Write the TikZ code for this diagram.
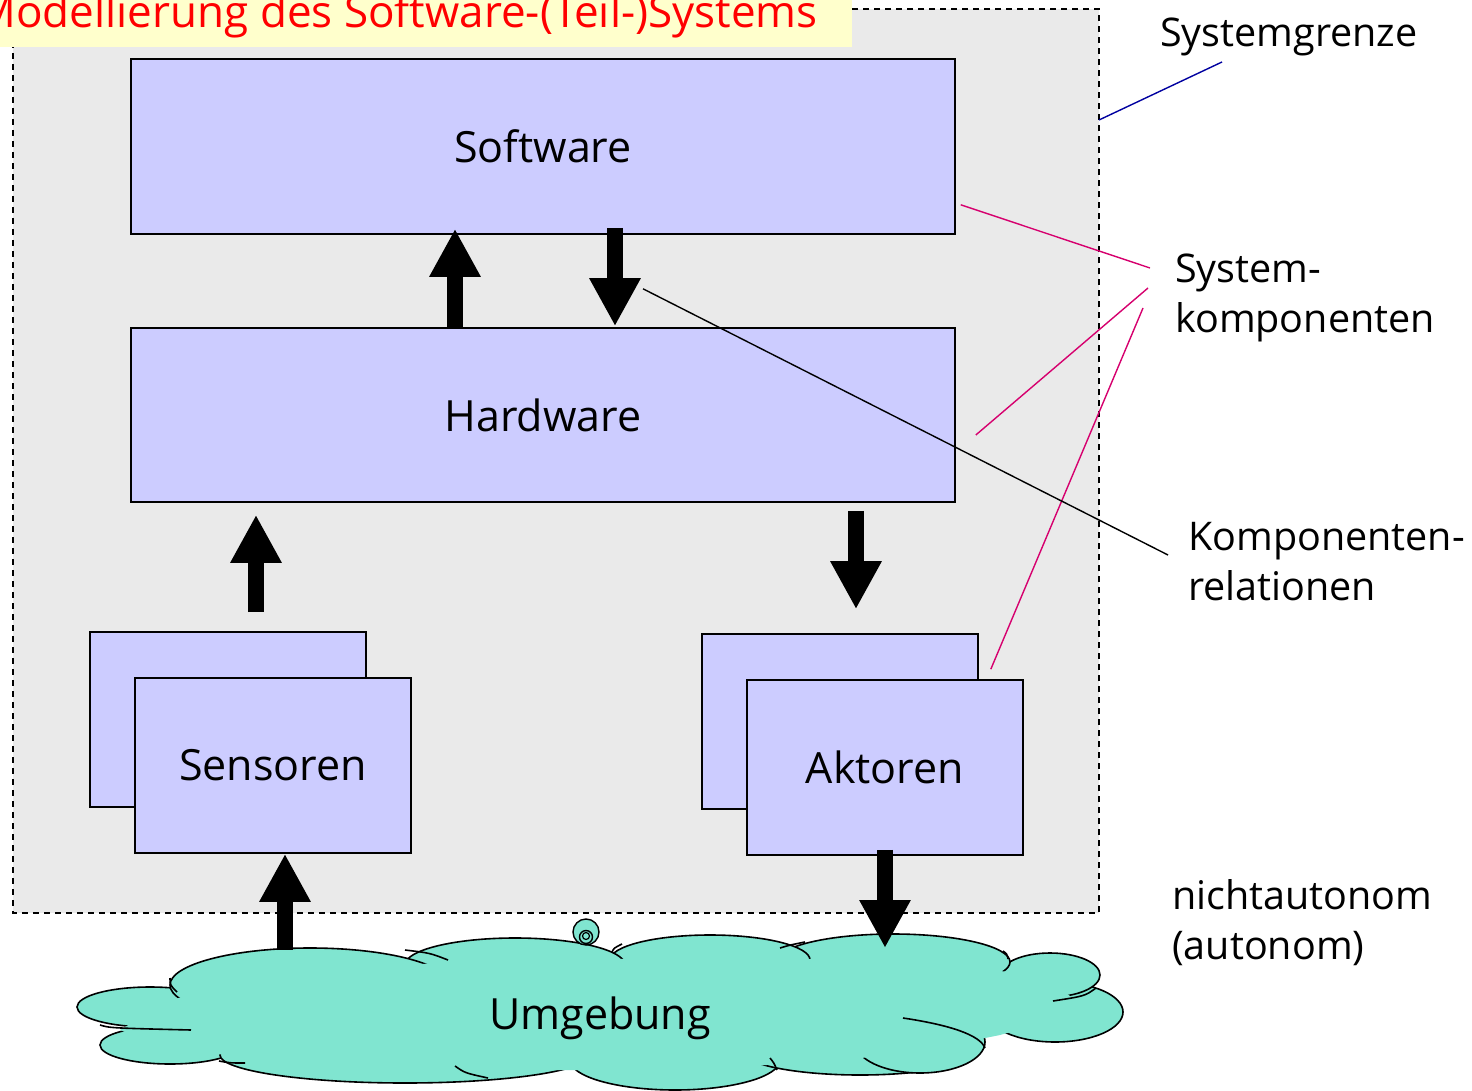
\documentclass[tikz,border=0pt]{standalone}
\usepackage{fontspec}
\setmainfont{Open Sans}
\usetikzlibrary{arrows.meta}
\definecolor{boxc}{HTML}{CCCCFF}
\definecolor{sysc}{HTML}{EAEAEA}
\definecolor{cloudc}{HTML}{80E5D0}
\definecolor{titlec}{HTML}{FFFFCC}
\definecolor{magc}{HTML}{D6006E}
\definecolor{bluec}{HTML}{0000A0}
\begin{document}
\begin{tikzpicture}[x=1pt,y=-1pt,
  comp/.style={draw=black, fill=boxc, line width=1.6pt, inner sep=0pt, font=\fontsize{43}{50}\selectfont},
  barrow/.style={line width=16pt, -{Triangle[width=48pt,length=48pt]}},
  lbl/.style={align=left, anchor=west, inner sep=0pt, font=\fontsize{39.5}{50}\selectfont},
  lobe/.style={fill=cloudc, draw=black, line width=1.6pt},
  stub/.style={draw=black, line width=1.6pt},
  magline/.style={draw=magc, line width=1.4pt}]
\useasboundingbox (0,0) rectangle (1472,1091);
\fill[white] (0,0) rectangle (1472,1091);
% system boundary
\draw[fill=sysc, dash pattern=on 6pt off 5pt, line width=1.3pt] (13,9) rectangle (1099,913);
% title
\fill[titlec] (0,0) rectangle (852,47);
\node[anchor=east, inner sep=0pt, text=red, font=\fontsize{44}{50}\selectfont] (title) at (818,16) {Modellierung des Software-(Teil-)Systems};
% components
\node[comp, minimum width=824pt, minimum height=175pt] (sw) at (543,146.5) {Software};
\node[comp, minimum width=824pt, minimum height=174pt] (hw) at (543,415) {Hardware};
\node[comp, minimum width=276pt, minimum height=175pt] (sensb) at (228,719.5) {};
\node[comp, minimum width=276pt, minimum height=175pt] (sens) at (273,765.5) {Sensoren};
\node[comp, minimum width=276pt, minimum height=175pt] (aktb) at (840,721.5) {};
\node[comp, minimum width=276pt, minimum height=175pt] (akt) at (885,767.5) {Aktoren};
% cloud
\begin{scope}
\foreach \cx/\cy/\rx/\ry in {150/1007/73/20, 170/1045/70/19, 405/1055/185/28, 675/1060/105/30,
  860/1050/120/25, 920/1042/65/31, 1055/1012/68/30, 1050/975/50/22, 893/962/117/28,
  710/960/100/25, 515/965/110/27, 310/985/140/37}
  \draw[lobe] (\cx,\cy) ellipse[x radius=\rx, y radius=\ry];
\fill[cloudc] (600,1012) ellipse[x radius=425, y radius=50];
\fill[cloudc] (170,1000) -- (300,970) -- (500,960) -- (700,958) -- (890,960) -- (1040,975) -- (1090,1010) -- (1000,1035) -- (900,1055) -- (700,1070) -- (400,1070) -- (170,1050) -- (120,1030) -- cycle;
\draw[stub] (170,978) .. controls (170,985) .. (177,992);
\draw[stub] (100,1025) .. controls (110,1028) .. (191,1030);
\draw[stub] (219,1061) .. controls (230,1063) .. (245,1063);
\draw[stub] (405,950) .. controls (430,953) .. (448,960);
\draw[stub] (455,1066) .. controls (465,1073) .. (488,1078);
\draw[stub] (612,952) .. controls (614,948) .. (622,944);
\draw[stub] (780,948) .. controls (790,945) .. (805,942);
\draw[stub] (1003,951) .. controls (1007,954) .. (1008,959);
\draw[stub] (1096,988) .. controls (1085,996) .. (1053,1001);
\draw[stub] (903,1018) .. controls (950,1025) and (980,1035) .. (985,1048);
\draw[stub] (770,1058) .. controls (774,1063) .. (777,1070);
\end{scope}
\node[inner sep=0pt, font=\fontsize{43}{50}\selectfont] (umg) at (600,1018) {Umgebung};
% little circle
\draw[fill=cloudc, line width=1.4pt] (586,932) circle (13);
\draw[line width=1.4pt] (586,937) circle (6.5);
\draw[line width=1.2pt] (586,936) circle (3.5);
% arrows
\coordinate (sa) at (285,950);
\coordinate (ae) at (885,948);
\draw[barrow] (hw.north -| 455,0) -- ([yshift=6pt]sw.south -| 455,0);
\draw[barrow] ([yshift=7pt]sw.south -| 615,0) -- ([yshift=1pt]hw.north -| 615,0);
\draw[barrow] ([yshift=19pt]sensb.north -| 256,0) -- ([yshift=-12pt]hw.south -| 256,0);
\draw[barrow] ([yshift=-8pt]hw.south -| 856,0) -- ([yshift=24pt]aktb.north -| 856,0);
\draw[barrow] (sa) -- (sens.south -| 285,0);
\draw[barrow] ([yshift=6pt]akt.south -| 885,0) -- (ae);
% labels
\node[lbl] (sg) at (1160,37) {Systemgrenze};
\node[lbl] (sk) at (1175,298) {System-\\komponenten};
\node[lbl] (kr) at (1188,562) {Komponenten-\\relationen};
\node[lbl] (na) at (1172,923) {nichtautonom\\(autonom)};
% leader lines
\coordinate (sgp) at (1099,120);
\draw[bluec, line width=1.4pt] (sgp) -- ([shift={(62pt,-25pt)}]sg.west);
\draw[magline] ([shift={(5pt,30pt)}]sw.south east) -- ([shift={(-25pt,30pt)}]sk.west);
\draw[magline] ([shift={(20pt,-20pt)}]hw.east) -- ([shift={(-27pt,10pt)}]sk.west);
\draw[magline] ([shift={(-33pt,10pt)}]akt.north east) -- ([shift={(-32pt,-10pt)}]sk.west);
\draw[black, line width=1.4pt] ([shift={(100pt,-54pt)}]sw.south) -- ([shift={(-20pt,7pt)}]kr.west);
\end{tikzpicture}
\end{document}
